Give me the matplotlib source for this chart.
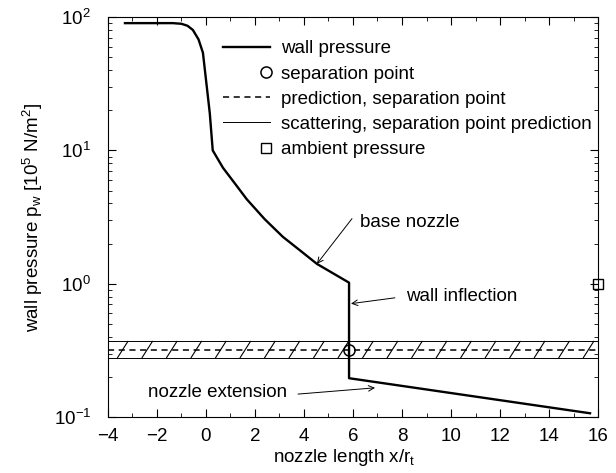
import numpy as np
import matplotlib.pyplot as plt
from matplotlib.lines import Line2D
from matplotlib.legend_handler import HandlerLine2D
from matplotlib.ticker import MultipleLocator, LogLocator, NullFormatter

plt.rcParams['font.family'] = ['Liberation Sans', 'DejaVu Sans']
plt.rcParams['mathtext.default'] = 'regular'

# wall pressure distribution along the nozzle
x_wall = [-3.3, -1.35, -1.0, -0.75, -0.53, -0.3, -0.12, 0.16, 0.28, 0.7, 1.2, 1.67, 2.4, 3.14, 3.84, 4.53, 5.84, 5.84, 15.67]
p_wall = [90, 90, 89, 86, 80, 68, 54, 19, 10, 7.4, 5.6, 4.3, 3.05, 2.25, 1.78, 1.41, 1.02, 0.196, 0.107]

# separation point, predicted separation pressure band, ambient pressure
x_sep, p_sep = 5.84, 0.32
p_pred = 0.32
p_scatter_lo, p_scatter_hi = 0.28, 0.37
x_amb, p_amb = 16.0, 1.0

FS = 13.5

fig = plt.figure(figsize=(6.16, 4.73), dpi=100)
ax = fig.add_axes([0.175, 0.118, 0.796, 0.846])

ax.plot(x_wall, p_wall, color='black', lw=1.7, label='wall pressure', zorder=4)
ax.plot([x_sep], [p_sep], 'o', mfc='none', mec='black', ms=8, mew=1.1,
        label='separation point', zorder=5)
ax.axhline(p_pred, color='black', lw=1.1, ls=(0, (4, 3)), label='prediction, separation point')
ax.axhline(p_scatter_hi, color='black', lw=0.7, label='scattering, separation point prediction')
ax.axhline(p_scatter_lo, color='black', lw=0.7)
ax.plot([x_amb], [p_amb], 's', mfc='none', mec='black', ms=7, mew=1.0,
        label='ambient pressure', clip_on=False, zorder=5)

# hatch strokes inside the scatter band
for xh in np.arange(-3.6, 16.0, 1.0):
    ax.plot([xh, xh + 0.42], [p_scatter_lo, p_scatter_hi], color='black', lw=0.8)

ax.set_yscale('log')
ax.set_xlim(-4, 16)
ax.set_ylim(0.1, 100)
ax.xaxis.set_major_locator(MultipleLocator(2))
ax.xaxis.set_minor_locator(MultipleLocator(1))
ax.yaxis.set_minor_locator(LogLocator(base=10, subs=np.arange(2, 10)))
ax.yaxis.set_minor_formatter(NullFormatter())
ax.tick_params(which='both', direction='in', top=True, right=True, labelsize=FS)
ax.tick_params(which='major', length=6)
ax.tick_params(which='minor', length=3)
ax.tick_params(axis='x', pad=8)
ax.tick_params(axis='y', pad=12)

ax.set_xlabel('nozzle length x/r$_t$', fontsize=FS, labelpad=1, x=0.482)
ax.set_ylabel('wall pressure p$_w$ [10$^5$ N/m$^2$]', fontsize=FS, labelpad=6)

arrow = dict(arrowstyle='->', color='black', lw=0.7, shrinkA=0, shrinkB=0)
ax.annotate('', xy=(4.53, 1.41), xytext=(5.96, 3.08), arrowprops=arrow)
ax.text(6.29, 2.88, 'base nozzle', fontsize=FS, va='center', ha='left')
ax.annotate('', xy=(5.92, 0.71), xytext=(7.71, 0.785), arrowprops=arrow)
ax.text(8.16, 0.81, 'wall inflection', fontsize=FS, va='center', ha='left')
ax.annotate('', xy=(6.9, 0.166), xytext=(3.76, 0.149), arrowprops=arrow)
ax.text(-2.37, 0.154, 'nozzle extension', fontsize=FS, va='center', ha='left')


class EndMarker(HandlerLine2D):
    # legend marker drawn at the right end of the handle, no line
    def create_artists(self, legend, orig_handle, xdescent, ydescent, width, height, fontsize, trans):
        mk = Line2D([-xdescent + width - 3], [(height - ydescent) / 2])
        self.update_prop(mk, orig_handle, legend)
        mk.set_transform(trans)
        return [mk]


handles, labels = ax.get_legend_handles_labels()
hmap = {h: EndMarker() for h in handles if h.get_marker() not in (None, 'None', '')}
leg = ax.legend(handles, labels, loc='upper left', bbox_to_anchor=(0.235, 0.942),
                frameon=False, fontsize=FS, handlelength=2.5, handletextpad=0.6,
                labelspacing=0.43, borderpad=0, borderaxespad=0, handler_map=hmap)

fig.savefig('out.png', dpi=100)
